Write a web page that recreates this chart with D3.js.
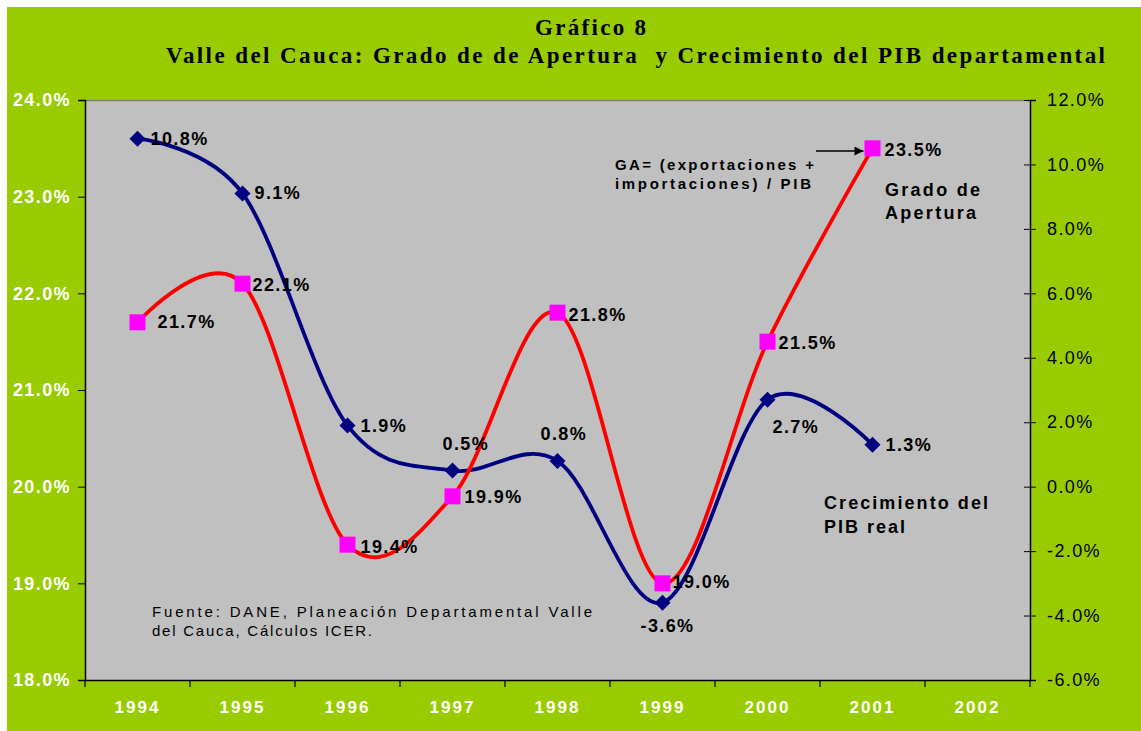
<!DOCTYPE html>
<html>
<head>
<meta charset="utf-8">
<script src="https://cdn.jsdelivr.net/npm/d3@7"></script>
<style>
  body { margin: 0; background: #fff; }
  text { font-family: "Liberation Sans", Arial, sans-serif; }
</style>
</head>
<body>
<div class="chart"></div>
<script>
// data
var years = ["1994","1995","1996","1997","1998","1999","2000","2001","2002"]
var apertura = [21.7, 22.1, 19.4, 19.9, 21.8, 19.0, 21.5, 23.5]      // left axis
var crecimiento = [10.8, 9.1, 1.9, 0.5, 0.8, -3.6, 2.7, 1.3]         // right axis
var leftTicks = [18, 19, 20, 21, 22, 23, 24]
var rightTicks = [-6, -4, -2, 0, 2, 4, 6, 8, 10, 12]

// label nudges (dx, dy from the marker, text-anchor start)
var aperturaOff = [[20,6],[10,7],[13,8],[12,7],[11,8],[10,5],[11,7],[12,8]]
var crecOff = [[13,6],[12,6],[13,7],[-10,-21],[-17,-21],[-22,29],[5,33],[13,6]]

const W = 1141, H = 731
const m = {left: 85, right: 1030, top: 100, bottom: 680}

const svg = d3.select('.chart')
  .append('svg')
  .attr('width', W)
  .attr('height', H)

svg.append('rect')
  .attr('x', 7).attr('y', 7)
  .attr('width', W - 7).attr('height', H - 7)
  .attr('fill', '#99CC00')

const x = d3.scaleBand().domain(years).range([m.left, m.right])
const yL = d3.scaleLinear().domain([18, 24]).range([m.bottom, m.top])
const yR = d3.scaleLinear().domain([-6, 12]).range([m.bottom, m.top])
const cx = i => x(years[i]) + x.bandwidth() / 2

// plot area
svg.append('rect')
  .attr('x', m.left).attr('y', m.top)
  .attr('width', m.right - m.left).attr('height', m.bottom - m.top)
  .attr('fill', '#C0C0C0')
svg.append('line')
  .attr('x1', m.left).attr('x2', m.right)
  .attr('y1', m.top + 0.5).attr('y2', m.top + 0.5)
  .attr('stroke', '#808080').attr('stroke-width', 1.5)

// title
svg.append('text')
  .attr('x', 535).attr('y', 35)
  .attr('textLength', 111).attr('lengthAdjust', 'spacing')
  .style('font-family', '"Liberation Serif", "Times New Roman", serif')
  .style('font-weight', 'bold').style('font-size', '23px')
  .text('Gráfico 8')
svg.append('text')
  .attr('x', 166).attr('y', 63)
  .attr('textLength', 939).attr('lengthAdjust', 'spacing')
  .style('font-family', '"Liberation Serif", "Times New Roman", serif')
  .style('font-weight', 'bold').style('font-size', '23px')
  .style('white-space', 'pre')
  .text('Valle del Cauca: Grado de de Apertura  y Crecimiento del PIB departamental')

// left axis
const gL = svg.append('g')
  .attr('transform', `translate(${m.left},0)`)
  .call(d3.axisLeft(yL).tickValues(leftTicks).tickSize(7).tickPadding(7)
    .tickFormat(d => d.toFixed(1) + '%'))
gL.select('.domain').attr('stroke', '#000').attr('stroke-width', 1.5)
gL.selectAll('.tick line').attr('stroke', '#000')
gL.selectAll('.tick text')
  .attr('fill', '#fff')
  .style('font-size', '18px').style('font-weight', 'bold')
  .style('letter-spacing', '1.4px')
  .style('font-family', '"Liberation Sans", Arial, sans-serif')

// right axis
const gR = svg.append('g')
  .attr('transform', `translate(${m.right},0)`)
  .call(d3.axisRight(yR).tickValues(rightTicks).tickSize(6).tickPadding(11)
    .tickFormat(d => d.toFixed(1) + '%'))
gR.select('.domain').attr('stroke', '#000').attr('stroke-width', 1.5)
gR.selectAll('.tick line').attr('x1', -6).attr('stroke', '#000')
gR.selectAll('.tick text')
  .attr('fill', '#000')
  .style('font-size', '18px')
  .style('letter-spacing', '1.4px')
  .style('font-family', '"Liberation Sans", Arial, sans-serif')

// bottom axis, ticks between categories
const gX = svg.append('g')
  .attr('transform', `translate(0,${m.bottom})`)
  .call(d3.axisBottom(x).tickSize(0).tickPadding(0))
gX.select('.domain').attr('stroke', '#000').attr('stroke-width', 1.5)
gX.selectAll('.tick text')
  .attr('y', 33).attr('dy', null)
  .attr('fill', '#fff')
  .style('font-size', '17px').style('font-weight', 'bold')
  .style('letter-spacing', '2px')
  .style('font-family', '"Liberation Sans", Arial, sans-serif')
gX.selectAll('.bound')
  .data(years.map(d => x(d)).concat([m.right]))
  .enter()
  .append('line')
  .attr('x1', d => d).attr('x2', d => d)
  .attr('y1', 0).attr('y2', 7)
  .attr('stroke', '#000').attr('stroke-width', 1.2)

// lines
const curve = d3.curveCardinal.tension(0)
const lineR = d3.line().x((d, i) => cx(i)).y(d => yR(d)).curve(curve)
const lineL = d3.line().x((d, i) => cx(i)).y(d => yL(d)).curve(curve)

svg.append('path')
  .attr('d', lineR(crecimiento))
  .attr('fill', 'none').attr('stroke', '#000080').attr('stroke-width', 3.8)

svg.append('path')
  .attr('d', lineL(apertura))
  .attr('fill', 'none').attr('stroke', '#FF0000').attr('stroke-width', 3.8)

// markers
svg.selectAll('.dia')
  .data(crecimiento)
  .enter()
  .append('path')
  .attr('d', d3.symbol(d3.symbolSquare, 128))
  .attr('transform', (d, i) => `translate(${cx(i)},${yR(d)}) rotate(45)`)
  .attr('fill', '#000080')

svg.selectAll('.sq')
  .data(apertura)
  .enter()
  .append('rect')
  .attr('x', (d, i) => cx(i) - 8)
  .attr('y', d => yL(d) - 8)
  .attr('width', 16).attr('height', 16)
  .attr('fill', '#FF00FF')

// data labels
function label(txt, px, py) {
  svg.append('text')
    .attr('x', px).attr('y', py)
    .style('font-size', '18px').style('font-weight', 'bold')
    .style('letter-spacing', '1.4px')
    .attr('fill', '#000')
    .text(txt)
}
crecimiento.forEach((d, i) => {
  label(d.toFixed(1) + '%', cx(i) + crecOff[i][0], yR(d) + crecOff[i][1])
})
apertura.forEach((d, i) => {
  label(d.toFixed(1) + '%', cx(i) + aperturaOff[i][0], yL(d) + aperturaOff[i][1])
})

// notes
function note(txt, px, py, len, size, weight) {
  svg.append('text')
    .attr('x', px).attr('y', py)
    .attr('textLength', len).attr('lengthAdjust', 'spacing')
    .style('font-size', size + 'px').style('font-weight', weight)
    .attr('fill', '#000')
    .text(txt)
}
note('GA= (exportaciones +', 615, 170, 199, 15, 'bold')
note('importaciones) / PIB', 615, 189, 196, 15, 'bold')
note('Grado de', 885, 196, 95, 18, 'bold')
note('Apertura', 885, 219, 91, 18, 'bold')
note('Crecimiento del', 824, 509, 164, 18, 'bold')
note('PIB real', 824, 533, 81, 18, 'bold')
note('Fuente: DANE, Planeación Departamental Valle', 152, 617, 440, 15, 'normal')
note('del Cauca, Cálculos ICER.', 152, 636, 220, 15, 'normal')

// arrow to the last point
svg.append('defs').append('marker')
  .attr('id', 'arr')
  .attr('viewBox', '0 0 10 10')
  .attr('refX', 10).attr('refY', 5)
  .attr('markerWidth', 12).attr('markerHeight', 9)
  .attr('markerUnits', 'userSpaceOnUse')
  .attr('orient', 'auto')
  .append('path')
  .attr('d', 'M0,0 L10,5 L0,10 z')
  .attr('fill', '#000')
svg.append('line')
  .attr('x1', 816).attr('x2', cx(7) - 9)
  .attr('y1', 151).attr('y2', 151)
  .attr('stroke', '#000').attr('stroke-width', 1.5)
  .attr('marker-end', 'url(#arr)')
</script>
</body>
</html>
